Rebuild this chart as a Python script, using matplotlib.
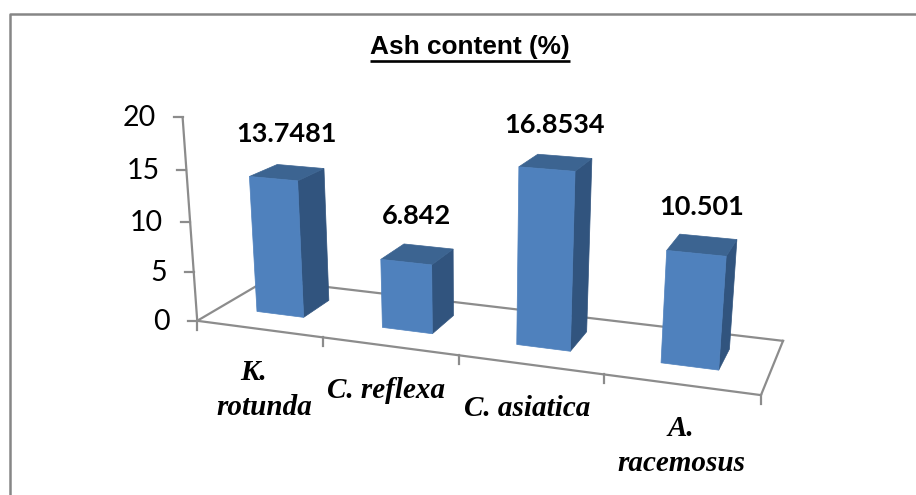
import numpy as np
import matplotlib
matplotlib.use("Agg")
import matplotlib.pyplot as plt
from matplotlib.patches import Polygon

categories = [["K.   ", "rotunda"], ["C. reflexa"], ["C. asiatica"], ["A.", "racemosus"]]
values = [13.7481, 6.842, 16.8534, 10.501]
value_labels = ["13.7481", "6.842", "16.8534", "10.501"]
y_ticks = [0, 5, 10, 15, 20]

FRONT = "#4f81bd"
SIDE = "#31547e"
TOP = "#3c6491"
GRID = "#8c8c8c"

# chart box coords (u = category, d = depth, z = value) -> picture pixels
anchors = [
    ((0, 0, 0), (198, 321)),
    ((1, 0, 0), (322, 337)),
    ((2, 0, 0), (456, 355)),
    ((3, 0, 0), (603, 373)),
    ((4, 0, 0), (764, 393)),
    ((4, 1, 0), (783, 341)),
    ((0, 1, 0), (268, 283)),
    ((0, 0, 20), (183, 117)),
    ((4, 0, 20), (780, 167)),
    ((4, 1, 20), (799, 129)),
    ((0, 1, 20), (257, 91)),
]


def fit_camera(pairs):
    rows = []
    rhs = []
    for (u, d, z), (px, py) in pairs:
        rows.append([u, d, z, 1, 0, 0, 0, 0, -px * u, -px * d, -px * z])
        rhs.append(px)
        rows.append([0, 0, 0, 0, u, d, z, 1, -py * u, -py * d, -py * z])
        rhs.append(py)
    m = np.linalg.lstsq(np.array(rows, float), np.array(rhs, float), rcond=None)[0]
    return np.append(m, 1).reshape(3, 4)


cam = fit_camera(anchors)


def proj(u, d, z):
    p = cam @ np.array([u, d, z, 1.0])
    return p[0] / p[2], p[1] / p[2]


fig = plt.figure(figsize=(9.16, 4.95), dpi=100)
ax = fig.add_axes([0, 0, 1, 1])
ax.set_xlim(0, 916)
ax.set_ylim(495, 0)
ax.axis("off")

# outer frame, the bottom is cut off in the picture
ax.plot([9.5, 9.5, 916], [495, 13.5, 13.5], color="#868686", lw=1.8, solid_capstyle="butt")


def line(a, b, lw=1.6):
    pa, pb = proj(*a), proj(*b)
    ax.plot([pa[0], pb[0]], [pa[1], pb[1]], color=GRID, lw=lw, solid_capstyle="projecting", zorder=1)


# floor and value axis
line((0, 0, 0), (4, 0, 0))
line((4, 0, 0), (4, 1, 0))
line((4, 1, 0), (0, 1, 0))
line((0, 1, 0), (0, 0, 0))
line((0, 0, 0), (0, 0, y_ticks[-1]))

for t in y_ticks:
    x0, y0 = proj(0, 0, t)
    ax.plot([x0 - 9, x0], [y0, y0], color=GRID, lw=1.6, zorder=1)
    ax.text(x0 - 27, y0 + 1, str(t), ha="right", va="center",
            fontsize=20.5, family="Lato", color="black")

for i in range(len(categories) + 1):
    x0, y0 = proj(i, 0, 0)
    ax.plot([x0, x0], [y0, y0 + 9], color=GRID, lw=1.6, zorder=1)

bar_w = 0.38
d0, d1 = 0.32, 0.72

for i, v in enumerate(values):
    u0 = i + 0.49 - bar_w / 2
    u1 = i + 0.49 + bar_w / 2
    front = [proj(u0, d0, 0), proj(u1, d0, 0), proj(u1, d0, v), proj(u0, d0, v)]
    side = [proj(u1, d0, 0), proj(u1, d1, 0), proj(u1, d1, v), proj(u1, d0, v)]
    top = [proj(u0, d0, v), proj(u1, d0, v), proj(u1, d1, v), proj(u0, d1, v)]
    ax.add_patch(Polygon(side, closed=True, fc=SIDE, ec=SIDE, lw=0.5, zorder=3))
    ax.add_patch(Polygon(top, closed=True, fc=TOP, ec=TOP, lw=0.5, zorder=3))
    ax.add_patch(Polygon(front, closed=True, fc=FRONT, ec=FRONT, lw=0.5, zorder=4))
    lx, ly = proj(i + 0.49, (d0 + d1) / 2, v)
    ax.text(lx - 1, ly - 38, value_labels[i], ha="center", va="center", fontsize=19.5,
            family="Lato", fontweight="bold", color="black", zorder=5)

# category labels
label_xy = [(264, 390), (386, 390), (527, 409), (681, 446)]
for parts, (lx, ly) in zip(categories, label_xy):
    ax.text(lx, ly, "\n".join(parts), ha="center", va="center", fontsize=21,
            family="Liberation Serif", style="italic", fontweight="bold",
            linespacing=1.4, color="black")

ax.text(470, 47, "Ash content (%)", ha="center", va="center", fontsize=18.9,
        family="Liberation Sans", fontweight="bold", color="black")
ax.plot([370, 570], [60.5, 60.5], color="black", lw=1.9, solid_capstyle="butt")

fig.savefig("out.png", dpi=100)
